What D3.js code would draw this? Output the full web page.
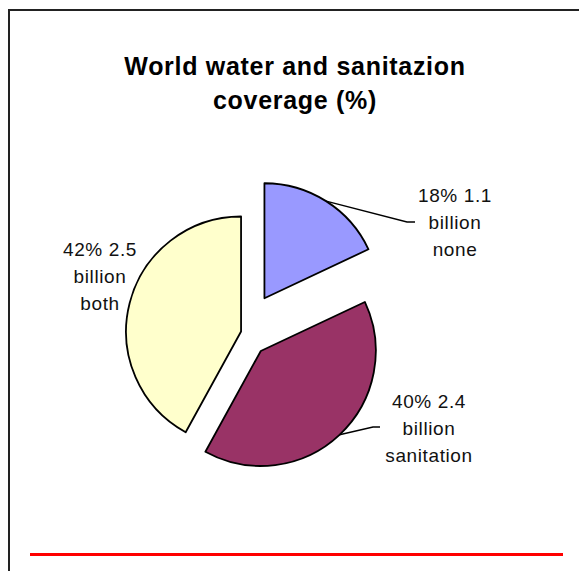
<!DOCTYPE html>
<html>
<head>
<meta charset="utf-8">
<script src="https://cdn.jsdelivr.net/npm/d3@7"></script>
<style>
  html, body { margin: 0; padding: 0; background: #fff; }
  svg { display: block; font-family: 'Liberation Sans', Arial, sans-serif; }
</style>
</head>
<body>
<div id="chart"></div>
<script>
// chart data
const categories = ['none', 'sanitation', 'both']
const shares = [18, 40, 42]
const billions = ['1.1', '2.4', '2.5']
const titleLines = ['World water and sanitazion', 'coverage (%)']

const colors = ['#9999ff', '#993366', '#ffffcc']

// layout
const width = 579, height = 571
const cx = 243, cy = 332, radius = 115
const explode = [40, 26, 2]
// label anchor (x, first baseline) and leader elbow per slice
const labelPos = [
  { x: 455, y: 202, elbow: [407, 222], end: [415, 222] },
  { x: 429, y: 408, elbow: [373, 427], end: [380, 427] },
  { x: 100, y: 256, elbow: null, end: null }
]

const svg = d3.select('#chart')
  .append('svg')
  .attr('width', width)
  .attr('height', height)

// chart area frame (right and bottom run off the page)
svg.append('rect')
  .attr('x', 9)
  .attr('y', 10)
  .attr('width', width + 20)
  .attr('height', height + 20)
  .attr('fill', 'none')
  .attr('stroke', '#222')
  .attr('stroke-width', 2)

svg.append('text')
  .attr('text-anchor', 'middle')
  .attr('font-weight', 'bold')
  .attr('font-size', 25)
  .attr('letter-spacing', 0.7)
  .selectAll('tspan')
  .data(titleLines)
  .enter()
  .append('tspan')
  .attr('x', 295)
  .attr('y', (d, i) => 75 + i * 34)
  .text(d => d)

const pie = d3.pie().sort(null).value(d => d)
const arcs = pie(shares)
const arc = d3.arc().innerRadius(0).outerRadius(radius)

const slices = svg.append('g')
  .attr('transform', `translate(${cx},${cy})`)

slices.selectAll('path')
  .data(arcs)
  .enter()
  .append('path')
  .attr('transform', (d, i) => {
    const mid = (d.startAngle + d.endAngle) / 2
    return `translate(${Math.sin(mid) * explode[i]},${-Math.cos(mid) * explode[i]})`
  })
  .attr('d', arc)
  .attr('fill', (d, i) => colors[i])
  .attr('stroke', '#000')
  .attr('stroke-width', 1.8)
  .attr('stroke-linejoin', 'round')

// leader lines from the middle of each arc
arcs.forEach((d, i) => {
  const lp = labelPos[i]
  if (!lp.elbow) return
  const mid = (d.startAngle + d.endAngle) / 2
  const r = radius + explode[i]
  const sx = cx + Math.sin(mid) * r
  const sy = cy - Math.cos(mid) * r
  svg.append('polyline')
    .attr('points', [[sx, sy], lp.elbow, lp.end].map(p => p.join(',')).join(' '))
    .attr('fill', 'none')
    .attr('stroke', '#000')
    .attr('stroke-width', 1.4)
})

const labels = svg.append('g')
  .attr('font-size', 19)
  .attr('letter-spacing', 0.6)
  .attr('fill', '#111')
  .attr('text-anchor', 'middle')

arcs.forEach((d, i) => {
  const lp = labelPos[i]
  const lines = [`${shares[i]}% ${billions[i]}`, 'billion', categories[i]]
  labels.append('text')
    .selectAll('tspan')
    .data(lines)
    .enter()
    .append('tspan')
    .attr('x', lp.x)
    .attr('y', (t, j) => lp.y + j * 27)
    .text(t => t)
})

svg.append('line')
  .attr('x1', 30)
  .attr('x2', 563)
  .attr('y1', 554.5)
  .attr('y2', 554.5)
  .attr('stroke', '#ff0000')
  .attr('stroke-width', 3)
</script>
</body>
</html>
